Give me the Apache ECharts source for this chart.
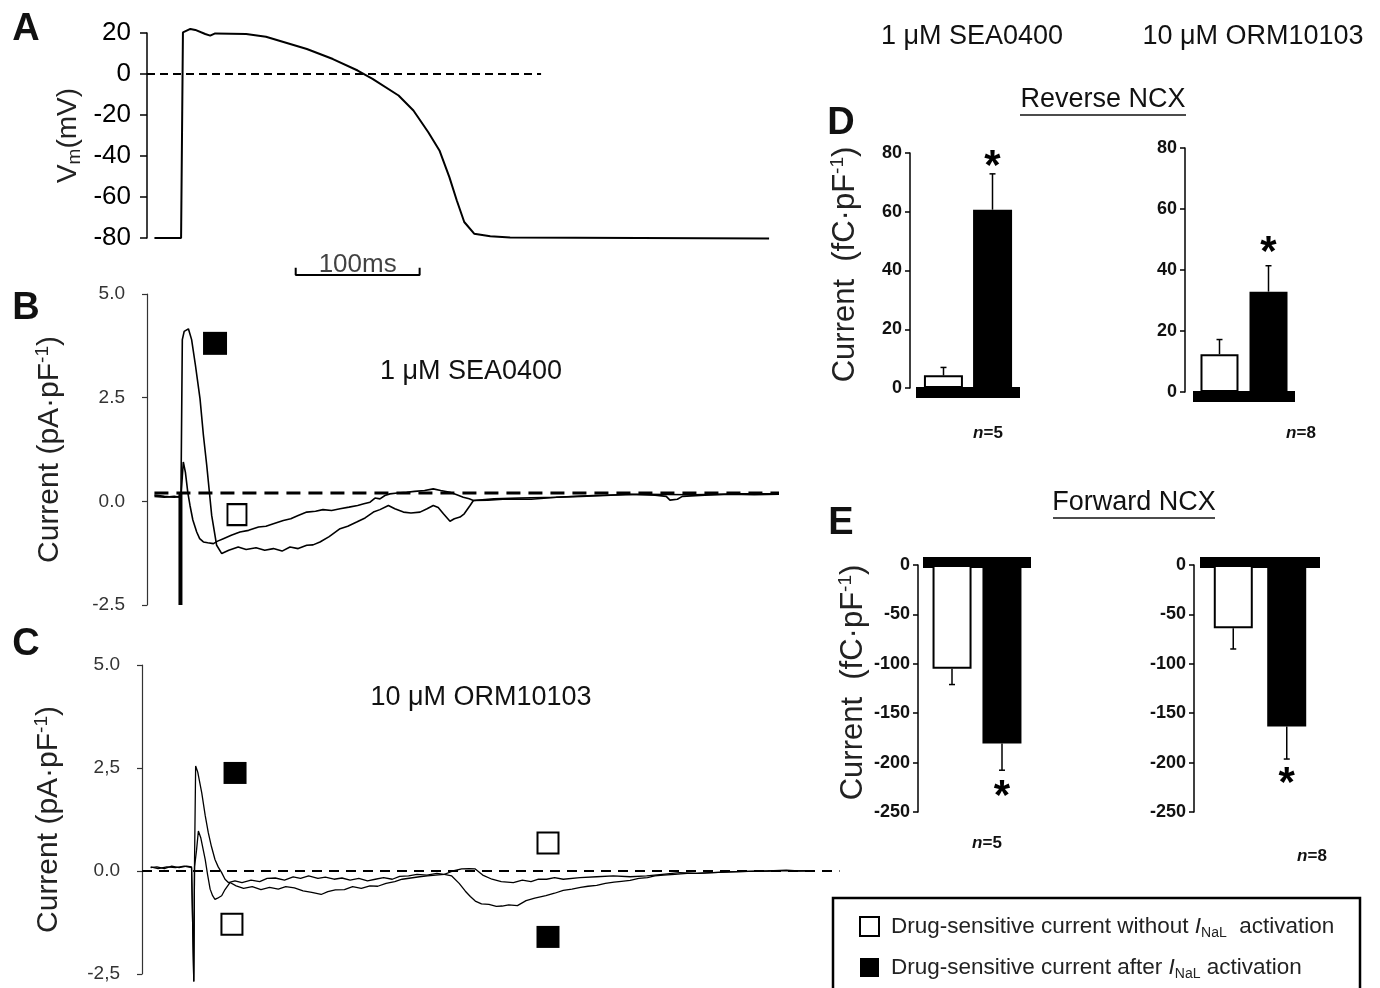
<!DOCTYPE html>
<html>
<head>
<meta charset="utf-8">
<script src="https://cdn.jsdelivr.net/npm/echarts@6/dist/echarts.min.js"></script>
<style>
  html, body { margin: 0; padding: 0; background: #fff; }
  #chart { width: 1380px; height: 988px; }
</style>
</head>
<body>
<div id="chart"></div>
<script>
/* ---------- data ---------- */

// A: action potential [ms, mV]
const apTrace = [[6,-80],[27.5,-80],[29,20.3],[35,22],[39,21.5],[47,19.5],[51,18.7],[55,19.8],[80,19.5],[96,18.2],
  [129,12.2],[150,7.3],[170,1.7],[182,-2.4],[203,-10.5],[215,-17.8],[227,-28.4],[236,-37.3],[244,-50.3],[250,-61.7],
  [256,-72.2],[264,-77.9],[277,-79.2],[293,-79.8],[502,-80.3]]
const apZero = [[0,0],[318,0]]
const scaleBar = [[120,-94.5],[120,-98],[220,-98],[220,-94.5]]
const scaleBarLabel = [[170,-98]]

// B: 1 uM SEA0400 sensitive current [ms, pA/pF]
const bAfter = [[6,0.12],[14,0.1],[22,0.12],[26.5,0.1],[27,-2.5],[27.4,0.1],[28.5,3.9],[30,4.1],[33.4,4.16],[36,3.9],
  [39,3.3],[42.8,2.47],[45.5,1.6],[48.2,0.87],[52.2,-0.34],[56.2,-1.06],[60.3,-1.26],[66,-1.18],[73.6,-1.1],[80,-1.16],
  [88,-1.12],[95,-1.18],[102,-1.14],[109,-1.2],[115.4,-1.1],[122,-1.14],[128.9,-1.06],[134,-1.05],[139.6,-0.98],
  [147,-0.85],[155.8,-0.66],[162,-0.6],[169.2,-0.5],[176,-0.4],[182.7,-0.26],[188,-0.2],[194.8,-0.1],[200,-0.18],
  [206.9,-0.26],[213,-0.28],[220.3,-0.26],[226,-0.18],[231,-0.1],[235,-0.15],[239.2,-0.3],[244.5,-0.48],[248,-0.42],
  [252.6,-0.38],[256,-0.3],[260.7,-0.1],[263.4,0.02],[275,0.03],[290.3,0.06],[310,0.05],[330.6,0.1],[350,0.12],
  [370,0.14],[390,0.17],[410,0.15],[419,0.12],[422,0.03],[428,0.05],[432,0.12],[450,0.15],[470,0.17],[490,0.16],[510,0.17]]
const bWithout = [[6,0.15],[14,0.12],[22,0.1],[26.5,0.12],[27,-2.5],[27.4,0.1],[28.5,0.6],[29.3,0.95],[31,0.7],[33,0.2],
  [34.7,-0.1],[37,-0.45],[40.1,-0.74],[42.5,-0.9],[45.5,-0.98],[49,-1.0],[53.6,-1.02],[57,-0.96],[61.6,-0.9],[68,-0.82],
  [75,-0.74],[82,-0.7],[90,-0.62],[96,-0.6],[102,-0.54],[110,-0.46],[116,-0.42],[122,-0.34],[128.9,-0.26],[136,-0.24],
  [142,-0.2],[149,-0.22],[155.8,-0.18],[163,-0.14],[170,-0.1],[175,-0.06],[180,-0.02],[184,0.08],[188,0.06],[192,0.14],
  [196,0.18],[202,0.2],[209.5,0.22],[216,0.24],[224,0.26],[231,0.3],[237,0.26],[244.5,0.22],[250,0.16],[255.2,0.1],
  [260,0.06],[263.4,0.02],[280,0.06],[300,0.08],[330,0.1],[360,0.14],[400,0.17],[440,0.16],[480,0.18],[510,0.18]]
const bArtifact = [[27,0.2],[27,-2.5]]
const bZero = [[6,0.2],[510,0.2]]
const bMarkAfter = [[54.9,3.81]]
const bMarkWithout = [[72.6,-0.32]]

// C: 10 uM ORM10103 sensitive current [ms, pA/pF]
const cAfter = [[7,0.08],[12,0.1],[18,0.06],[24,0.12],[30,0.08],[36,0.12],[40,0.1],[41.8,-2.68],[42.4,0.2],[43.3,2.55],
  [45,2.4],[48.2,1.9],[51,1.35],[53.5,0.93],[56,0.6],[58.9,0.28],[61.5,0.1],[64.3,-0.04],[67,-0.2],[69.7,-0.28],
  [75,-0.24],[80.7,-0.28],[88,-0.22],[95,-0.26],[101,-0.18],[107.6,-0.17],[115,-0.22],[122,-0.14],[128,-0.18],
  [134.5,-0.12],[142,-0.18],[148,-0.15],[155,-0.2],[161.4,-0.17],[168,-0.22],[175,-0.18],[182,-0.24],[188.3,-0.2],
  [195,-0.16],[202,-0.2],[208,-0.13],[215.2,-0.12],[222,-0.08],[230,-0.1],[238,-0.06],[244,-0.08],[250,-0.12],
  [256,-0.3],[261,-0.49],[265,-0.62],[269,-0.73],[274,-0.8],[280,-0.81],[286,-0.86],[290.7,-0.85],[296,-0.82],
  [303,-0.84],[310,-0.72],[317,-0.66],[326,-0.6],[333,-0.54],[340,-0.47],[347,-0.44],[354,-0.4],[360,-0.37],
  [367,-0.35],[374,-0.3],[381,-0.27],[387,-0.25],[394,-0.23],[401,-0.18],[408,-0.16],[414,-0.12],[421,-0.1],
  [430,-0.08],[440,-0.06],[448,-0.06],[460,-0.04],[475,-0.02],[490,-0.01],[505,0.0],[520,0.02],[530,0.0],[539,0.01]]
const cWithout = [[7,0.1],[13,0.06],[20,0.1],[27,0.08],[34,0.12],[40,0.08],[41.8,-2.68],[42.4,0.1],[44,0.5],[45.5,0.97],
  [47.5,0.8],[51,0.28],[53,-0.1],[55,-0.44],[57,-0.6],[58.9,-0.69],[61,-0.66],[64.3,-0.6],[67,-0.45],[71,-0.28],
  [76,-0.36],[82,-0.42],[89,-0.38],[96,-0.45],[103,-0.4],[110,-0.44],[116,-0.38],[123,-0.41],[130,-0.48],[137,-0.52],
  [144.6,-0.57],[150,-0.5],[156,-0.46],[163.4,-0.45],[170,-0.38],[177,-0.42],[184,-0.36],[190.3,-0.37],[197,-0.3],
  [204,-0.26],[210,-0.2],[217,-0.17],[224,-0.14],[230.5,-0.12],[237,-0.1],[244,-0.08],[251,0.0],[258,0.05],[264,0.06],
  [269,0.05],[275,-0.1],[282.5,-0.2],[290,-0.26],[299.7,-0.28],[307,-0.22],[314,-0.26],[320,-0.2],[326.6,-0.2],
  [333,-0.16],[340,-0.2],[353.5,-0.16],[367,-0.14],[380.4,-0.12],[394,-0.14],[407.3,-0.12],[420,-0.08],[434,-0.04],
  [447,-0.06],[461,-0.04],[475,-0.02],[488,-0.01],[505,0.0],[520,0.01],[539,0.0]]
const cZero = [[0,0],[563,0]]
const cMarkAfter = [[75.1,2.38],[327.7,-1.6]]
const cMarkWithout = [[72.6,-1.29],[327.7,0.68]]
const cTickLabels = { '-2.5': '-2,5', '0': '0.0', '2.5': '2,5', '5': '5.0' }

// D/E: charge (fC/pF), index 0 = without INaL activation, 1 = after
const revSeaMean = [4.3, 60.7]
const revSeaSem = [2.7, 12.2]
const revSeaStar = [null, 79]
const revOrmMean = [12.4, 32.9]
const revOrmSem = [4.8, 8.5]
const revOrmStar = [null, 49]
const fwdSeaMean = [-105, -180.7]
const fwdSeaSem = [16, 27]
const fwdSeaStar = [null, -224]
const fwdOrmMean = [-64, -163.4]
const fwdOrmSem = [21, 33]
const fwdOrmStar = [null, -211]

const WITHOUT = 'Drug-sensitive current without INaL activation'
const AFTER = 'Drug-sensitive current after INaL activation'

/* ---------- helpers ---------- */

const FONT = '"Liberation Sans", Arial, sans-serif'
const NARROW = '"Liberation Sans Narrow", "Liberation Sans", Arial, sans-serif'

function trace(idx, data, width, dash) {
  return {
    type: 'line', xAxisIndex: idx, yAxisIndex: idx, data,
    symbol: 'none', clip: false, silent: true,
    lineStyle: { color: '#000', width, type: dash || 'solid' }
  }
}

function marks(idx, data, filled, size) {
  return {
    type: 'scatter', xAxisIndex: idx, yAxisIndex: idx, data, clip: false, silent: true,
    symbol: 'rect', symbolSize: size,
    itemStyle: filled ? { color: '#000', opacity: 1 } : { color: '#fff', borderColor: '#000', borderWidth: 2, opacity: 1 }
  }
}

function bars(idx, mean, width, gap) {
  return [
    { type: 'bar', name: WITHOUT, xAxisIndex: idx, yAxisIndex: idx, data: [mean[0]], barWidth: width, barGap: gap,
      silent: true, itemStyle: { color: '#fff', borderColor: '#000', borderWidth: 2 } },
    { type: 'bar', name: AFTER, xAxisIndex: idx, yAxisIndex: idx, data: [mean[1]], barWidth: width, barGap: gap,
      silent: true, itemStyle: { color: '#000' } }
  ]
}

// SEM whiskers + significance stars, shifted to sit on the two bars
function whiskers(idx, mean, sem, star, shift) {
  return {
    type: 'custom', xAxisIndex: idx, yAxisIndex: idx, z: 5, clip: false, silent: true,
    data: mean.map((m, i) => [0, m, m + Math.sign(m) * sem[i], star[i] == null ? '-' : star[i], i]),
    renderItem(params, api) {
      const x = api.coord([0, api.value(1)])[0] + (api.value(4) === 0 ? -shift : shift)
      const y0 = api.coord([0, api.value(1)])[1]
      const y1 = api.coord([0, api.value(2)])[1]
      const ls = { stroke: '#000', lineWidth: 1.5 }
      const children = [
        { type: 'line', shape: { x1: x, y1: y0, x2: x, y2: y1 }, style: ls },
        { type: 'line', shape: { x1: x - 3, y1: y1, x2: x + 3, y2: y1 }, style: ls }
      ]
      const s = api.value(3)
      if (!isNaN(s)) {
        const ys = api.coord([0, s])[1]
        children.push({ type: 'text', x: x, y: ys + 11,
          style: { text: '*', font: 'bold 42px ' + FONT, fill: '#000', align: 'center', verticalAlign: 'middle',
            textAlign: 'center', textVerticalAlign: 'middle' } })
      }
      return { type: 'group', children }
    }
  }
}

const supName = (pre) => `{t|${pre}}{sup|-1}{t|)}`
const nameRich = (size) => ({
  t: { fontSize: size, fontFamily: FONT, color: '#222', lineHeight: size + 4 },
  sup: { fontSize: Math.round(size * 0.62), fontFamily: FONT, color: '#222', lineHeight: 14, verticalAlign: 'top' }
})

function traceY(idx, min, max, interval, fmt, name, gap) {
  return {
    gridIndex: idx, type: 'value', min, max, interval,
    axisLine: { show: true, lineStyle: { color: '#333', width: 1.2 } },
    axisTick: { show: true, length: 5, lineStyle: { color: '#333', width: 1.2 } },
    splitLine: { show: false },
    axisLabel: { fontFamily: NARROW, fontSize: 19, color: '#333', margin: 22, formatter: fmt },
    name, nameLocation: 'middle', nameRotate: 90, nameGap: gap,
    nameTextStyle: { rich: nameRich(30) }
  }
}

function barY(idx, min, max, interval, offset, name) {
  return {
    gridIndex: idx, type: 'value', min, max, interval, offset,
    axisLine: { show: true, lineStyle: { color: '#000', width: 1.5 } },
    axisTick: { show: true, length: 5, lineStyle: { color: '#000', width: 1.5 } },
    splitLine: { show: false },
    axisLabel: { fontFamily: FONT, fontSize: 18, fontWeight: 'bold', color: '#111', margin: 8 },
    name: name || '', nameLocation: 'middle', nameRotate: 90, nameGap: 47,
    nameTextStyle: { rich: nameRich(31), padding: [0, 0, 0, 12] }
  }
}

function barX(idx, position, offset) {
  return {
    gridIndex: idx, type: 'category', data: ['n'], position, offset,
    axisLine: { show: true, onZero: false, lineStyle: { color: '#000', width: 11, cap: 'butt' } },
    axisTick: { show: false }, axisLabel: { show: false }
  }
}

function txt(x, y, text, font) {
  return { type: 'text', x, y, silent: true,
    style: { text, font, fill: '#111', align: 'center', verticalAlign: 'middle',
      textAlign: 'center', textVerticalAlign: 'middle' } }
}

function nLabel(x, y, n) {
  return { type: 'text', x, y, silent: true,
    style: { text: `{i|n}{b|=${n}}`, align: 'center', verticalAlign: 'middle',
      textAlign: 'center', textVerticalAlign: 'middle',
      rich: { i: { font: 'italic bold 17px ' + FONT, fill: '#111' }, b: { font: 'bold 17px ' + FONT, fill: '#111' } } } }
}

/* ---------- chart ---------- */

const chart = echarts.init(document.getElementById('chart'), null, { renderer: 'canvas' })

const option = {
  animation: false,
  backgroundColor: '#fff',
  grid: [
    { left: 147, top: 33, width: 632, height: 205, outerBoundsMode: 'none' },   // A
    { left: 147, top: 294, width: 632, height: 311, outerBoundsMode: 'none' },  // B
    { left: 142, top: 665, width: 700, height: 309, outerBoundsMode: 'none' },  // C
    { left: 916, top: 153, width: 104, height: 235, outerBoundsMode: 'none' },  // D SEA
    { left: 1193, top: 148, width: 102, height: 244, outerBoundsMode: 'none' }, // D ORM
    { left: 923, top: 565, width: 108, height: 247, outerBoundsMode: 'none' },  // E SEA
    { left: 1200, top: 565, width: 120, height: 247, outerBoundsMode: 'none' }  // E ORM
  ],
  xAxis: [
    { gridIndex: 0, type: 'value', min: 0, max: 510, show: false },
    { gridIndex: 1, type: 'value', min: 0, max: 510, show: false },
    { gridIndex: 2, type: 'value', min: 0, max: 565, show: false },
    barX(3, 'bottom', 4),
    barX(4, 'bottom', 4),
    barX(5, 'top', 3),
    barX(6, 'top', 3)
  ],
  yAxis: [
    {
      gridIndex: 0, type: 'value', min: -80, max: 20, interval: 20,
      axisLine: { show: true, lineStyle: { color: '#000', width: 1.5 } },
      axisTick: { show: true, length: 7, lineStyle: { color: '#000', width: 1.5 } },
      splitLine: { show: false },
      axisLabel: { fontFamily: FONT, fontSize: 26, color: '#000', margin: 16 },
      name: '{v|V}{s|m}{v|(mV)}', nameLocation: 'middle', nameRotate: 90, nameGap: 63,
      nameTextStyle: { rich: {
        v: { fontSize: 28, fontFamily: FONT, color: '#222', lineHeight: 32 },
        s: { fontSize: 19, fontFamily: FONT, color: '#222', lineHeight: 16, verticalAlign: 'bottom' }
      } }
    },
    traceY(1, -2.5, 5, 2.5, v => v.toFixed(1), supName('Current (pA·pF'), 80),
    traceY(2, -2.5, 5, 2.5, v => cTickLabels[String(v)] || '', supName('Current (pA·pF'), 76),
    barY(3, 0, 80, 20, 6, supName('Current  (fC·pF')),
    barY(4, 0, 80, 20, 8),
    barY(5, -250, 0, 50, 5, supName('Current  (fC·pF')),
    barY(6, -250, 0, 50, 6)
  ],
  legend: {
    data: [
      { name: WITHOUT, itemStyle: { color: '#fff', borderColor: '#000', borderWidth: 2 } },
      { name: AFTER, itemStyle: { color: '#000', borderWidth: 0 } }
    ],
    orient: 'vertical', left: 859, top: 915, padding: 0,
    itemWidth: 19, itemHeight: 19, itemGap: 16, icon: 'rect', selectedMode: false,
    formatter: name => name === WITHOUT
      ? '{t|Drug-sensitive current without }{i|I}{s|NaL}{t|  activation}'
      : '{t|Drug-sensitive current after }{i|I}{s|NaL}{t| activation}',
    textStyle: {
      padding: [0, 0, 0, 7],
      rich: {
        t: { fontSize: 22.5, fontFamily: FONT, color: '#222', lineHeight: 27 },
        i: { fontSize: 22.5, fontFamily: FONT, fontStyle: 'italic', color: '#222', lineHeight: 27 },
        s: { fontSize: 14, fontFamily: FONT, color: '#222', lineHeight: 14, verticalAlign: 'bottom' }
      }
    }
  },
  graphic: [
    txt(26, 30, 'A', 'bold 38px ' + FONT),
    txt(26, 309, 'B', 'bold 38px ' + FONT),
    txt(26, 645, 'C', 'bold 38px ' + FONT),
    txt(841, 124, 'D', 'bold 38px ' + FONT),
    txt(841, 524, 'E', 'bold 38px ' + FONT),
    txt(972, 37, '1 μM SEA0400', '27px ' + FONT),
    txt(1253, 37, '10 μM ORM10103', '27px ' + FONT),
    txt(471, 372, '1 μM SEA0400', '27px ' + FONT),
    txt(481, 698, '10 μM ORM10103', '27px ' + FONT),
    txt(1103, 100, 'Reverse NCX', '27px ' + FONT),
    { type: 'line', shape: { x1: 1020, y1: 115, x2: 1186, y2: 115 }, style: { stroke: '#111', lineWidth: 1.5 } },
    txt(1134, 503, 'Forward NCX', '27px ' + FONT),
    { type: 'line', shape: { x1: 1053, y1: 518, x2: 1215, y2: 518 }, style: { stroke: '#111', lineWidth: 1.5 } },
    nLabel(988, 433, 5),
    nLabel(1301, 433, 8),
    nLabel(987, 843, 5),
    nLabel(1312, 856, 8),
    { type: 'rect', shape: { x: 833, y: 898, width: 527, height: 120 },
      style: { fill: 'none', stroke: '#000', lineWidth: 2.5 }, silent: true }
  ],
  series: [
    ...bars(3, revSeaMean, 39, '26%'),
    ...bars(4, revOrmMean, 38, '29%'),
    ...bars(5, fwdSeaMean, 39, '28%'),
    ...bars(6, fwdOrmMean, 39, '37%'),
    whiskers(3, revSeaMean, revSeaSem, revSeaStar, 24.5),
    whiskers(4, revOrmMean, revOrmSem, revOrmStar, 24.5),
    whiskers(5, fwdSeaMean, fwdSeaSem, fwdSeaStar, 25),
    whiskers(6, fwdOrmMean, fwdOrmSem, fwdOrmStar, 26.75),

    trace(0, apTrace, 2),
    trace(0, apZero, 2, [8, 5]),
    trace(0, scaleBar, 2),
    {
      type: 'scatter', xAxisIndex: 0, yAxisIndex: 0, data: scaleBarLabel, clip: false,
      symbolSize: 0, silent: true,
      label: { show: true, position: 'top', distance: -3, formatter: '100ms', fontFamily: FONT, fontSize: 26, color: '#111' }
    },

    trace(1, bZero, 3, [14, 8]),
    trace(1, bWithout, 1.6),
    trace(1, bAfter, 1.6),
    trace(1, bArtifact, 4),
    marks(1, bMarkAfter, true, [24, 23]),
    marks(1, bMarkWithout, false, [19, 21]),

    trace(2, cZero, 2, [10, 7]),
    trace(2, cWithout, 1.3),
    trace(2, cAfter, 1.3),
    marks(2, cMarkAfter, true, [23, 22]),
    marks(2, cMarkWithout, false, [21, 21])
  ]
}

chart.setOption(option)
</script>
</body>
</html>
